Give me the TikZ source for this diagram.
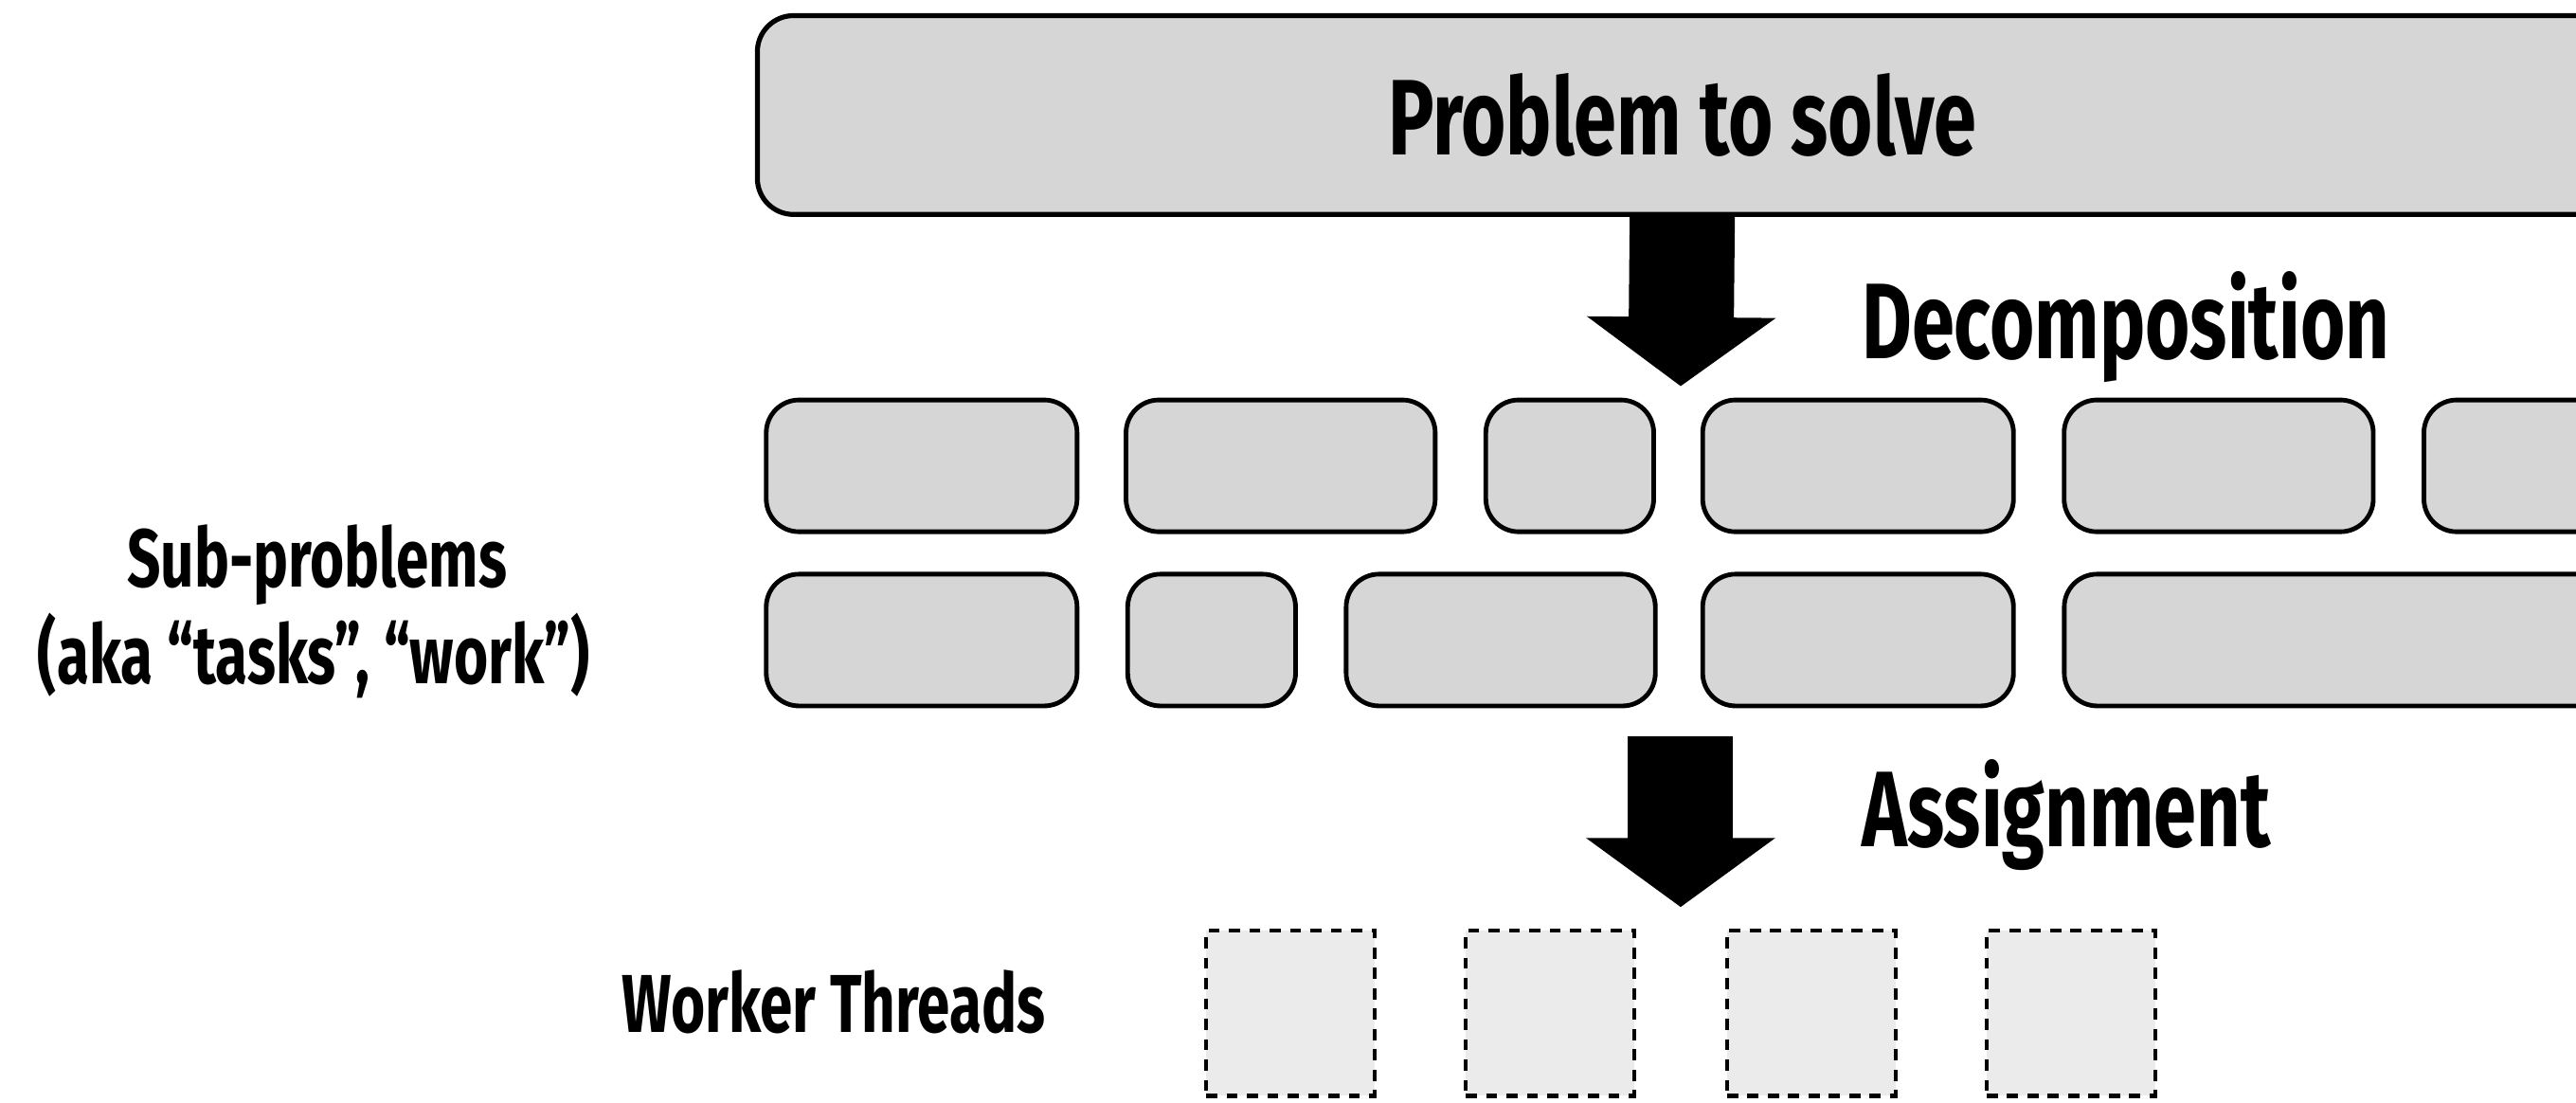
\documentclass[tikz,border=0pt]{standalone}
\usepackage{fontspec}
\setmainfont{Fira Sans}[FakeStretch=0.715]
\usetikzlibrary{arrows.meta}
\definecolor{boxgray}{RGB}{214,214,214}
\definecolor{workgray}{RGB}{235,235,235}
\begin{document}
\begin{tikzpicture}[x=0.5pt,y=-0.5pt,
  sub/.style={draw=black, line width=1.4pt, fill=boxgray, rounded corners=10pt,
    minimum height=40.1pt, inner sep=0pt, outer sep=0pt},
  topbox/.style={draw=black, line width=1.5pt, fill=boxgray, rounded corners=11pt,
    minimum height=60.5pt, inner sep=0pt, outer sep=0pt},
  worker/.style={draw=black, line width=1.3pt, dash pattern=on 3.4pt off 2.8pt, fill=workgray,
    minimum width=51.3pt, minimum height=50.3pt, inner sep=0pt, outer sep=0pt},
  big/.style={font=\fontsize{32.7}{38}\selectfont\bfseries, inner sep=0pt},
  small/.style={font=\fontsize{25}{30}\selectfont\bfseries, inner sep=0pt},
  fat/.style={line width=32pt, -{Triangle[width=56.5pt,length=21pt]}}]
\useasboundingbox (0,0) rectangle (1568,671);
\clip (0,0) rectangle (1568,671);
% top problem box
\node[topbox, minimum width=588.5pt] (prob) at (1049.5,70) {};
\node[big] (probtxt) at (1024,70) {Problem to solve};
% row 1
\node[sub, minimum width=94.6pt] (r1a) at (561,283.5) {};
\node[sub, minimum width=94.1pt] (r1b) at (779.5,283.5) {};
\node[sub, minimum width=51.1pt] (r1c) at (955.5,283.5) {};
\node[sub, minimum width=94.6pt] (r1d) at (1131,283.5) {};
\node[sub, minimum width=94.1pt] (r1e) at (1350.5,283.5) {};
\node[sub, minimum width=94.6pt] (r1f) at (1570,283.5) {};
% row 2
\node[sub, minimum width=94.6pt] (r2a) at (561,389.5) {};
\node[sub, minimum width=51.1pt] (r2b) at (737.5,389.5) {};
\node[sub, minimum width=94.1pt] (r2c) at (913.5,389.5) {};
\node[sub, minimum width=94.6pt] (r2d) at (1131,389.5) {};
\node[sub, minimum width=221pt] (r2e) at (1477.5,389.5) {};
% workers
\node[worker] (w1) at (785.5,616.5) {};
\node[worker] (w2) at (943.5,616.5) {};
\node[worker] (w3) at (1102.5,616.5) {};
\node[worker] (w4) at (1260.5,616.5) {};
% labels
\node[big, anchor=base west] (decomp) at (1133,218) {Decomposition};
\node[big, anchor=base west] (assign) at (1133,515) {Assignment};
\node[small, anchor=base] (subp1) at (193,357) {Sub-problems};
\node[small, anchor=base] (subp2) at (191,416) {(aka “tasks”, “work”)};
\node[small, anchor=base west] (workers) at (378,628) {Worker Threads};
% arrows
\coordinate (tip1) at (1023,235);
\coordinate (start2) at (1023,448);
\coordinate (tip2) at (1023,552);
\draw[fat] (probtxt.center |- prob.south) -- (tip1);
\draw[fat] (start2) -- (tip2);
\end{tikzpicture}
\end{document}
